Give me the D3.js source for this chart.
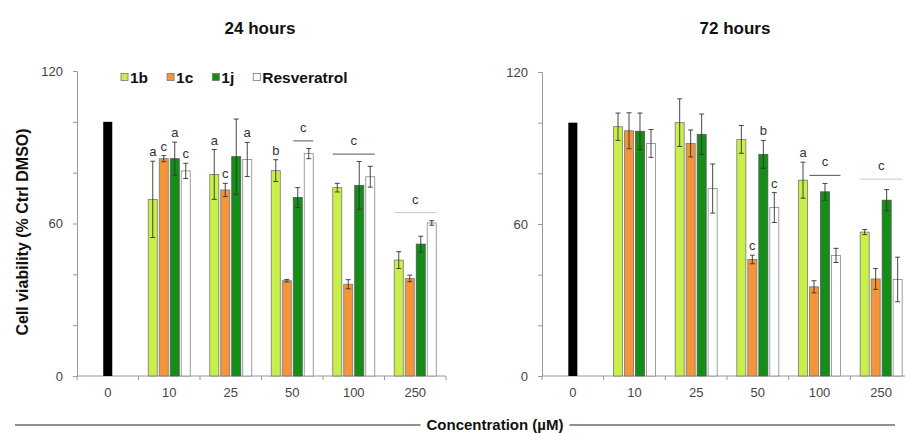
<!DOCTYPE html>
<html><head><meta charset="utf-8">
<script src="https://cdn.jsdelivr.net/npm/d3@7/dist/d3.min.js"></script>
<style>body{margin:0;background:#fff}svg{display:block;font-family:Arial,"Liberation Sans",sans-serif}</style>
</head><body><svg id="c" width="905" height="433"></svg>
<script>
// ---- data ----
const categories = ["0","10","25","50","100","250"];
const treatCats = ["10","25","50","100","250"];
const seriesNames = ["1b","1c","1j","Resveratrol"];
const control24 = 100, control72 = 100;
// 24 hours
const v24_1b = [69.5, 79.3, 80.8, 74.1, 45.6], e24_1b = [15, 9.8, 4.3, 1.7, 3.3];
const v24_1c = [85.5, 73.2, 37.5, 36.1, 38.4], e24_1c = [1.2, 2.6, 0.5, 1.8, 1.3];
const v24_1j = [85.5, 86.3, 70.2, 75.0, 51.9], e24_1j = [6.5, 14.8, 3.9, 9.4, 3.1];
const v24_rs = [80.7, 85.2, 87.5, 78.4, 60.2], e24_rs = [3, 6.7, 2, 4.1, 0.9];
// 72 hours
const v72_1b = [98.4, 100, 93.4, 77.3, 56.8], e72_1b = [5.4, 9.4, 5.5, 7.1, 1];
const v72_1c = [96.8, 91.8, 46.0, 35.2, 38.3], e72_1c = [7.1, 5.3, 1.7, 2.4, 4.1];
const v72_1j = [96.6, 95.4, 87.5, 72.7, 69.4], e72_1j = [7.2, 8, 5.5, 3.3, 4.2];
const v72_rs = [91.8, 74.0, 66.5, 47.6, 38.1], e72_rs = [5.5, 9.7, 5.9, 2.8, 8.8];
// significance letters per category (rows) and series (cols)
const letters24 = [["a","c","a","c"],["a","c","","a"],["b","","",""],["","","",""],["","","",""]];
const letters72 = [["","","",""],["","","",""],["","c","b","c"],["a","","",""],["","","",""]];
// grouped letters: [category, fromSeries, toSeries, value, light]
const groups24 = [["50",2,3,92.5,false],["100",0,3,87.3,false],["250",0,3,64.3,true]];
const groups72 = [["100",1,3,79.2,false],["250",0,3,77.7,true]];
const yTicks = [0,20,40,60,80,100,120];
const yLabels = [0,60,120];

const colors = ["#c9f04a","#f5953a","#138f17","#ffffff"];
const strokes = ["#777","#777","#555","#888"];

const svg = d3.select("#c");

function panel(opt){
  const x = d3.scaleBand().domain(categories).range(opt.xr).padding(0);
  const y = d3.scaleLinear().domain([0,120]).range(opt.yr);
  const inner = d3.scaleBand().domain(seriesNames).range([0,42]).paddingInner(0.18).paddingOuter(0);
  const g = svg.append("g");
  const off = (x.bandwidth()-42)/2;

  // y axis
  const ya = g.append("g").attr("transform",`translate(${opt.xr[0]},0)`)
    .call(d3.axisLeft(y).tickValues(yTicks).tickSize(4).tickPadding(opt.tp)
      .tickFormat(d => yLabels.includes(d) ? d : ""));
  ya.select(".domain").attr("stroke","#999");
  ya.selectAll(".tick line").attr("stroke","#999");
  ya.selectAll(".tick text").attr("fill","#444").style("font-size","13px").style("font-family","Arial, 'Liberation Sans', sans-serif");

  // x axis
  const xa = g.append("g").attr("transform",`translate(0,${opt.yr[0]})`)
    .call(d3.axisBottom(x).tickSize(0).tickPadding(12));
  xa.select(".domain").remove();
  xa.selectAll(".tick text").attr("fill","#444").style("font-size","13px").style("font-family","Arial, 'Liberation Sans', sans-serif");
  g.append("line").attr("x1",opt.xr[0]).attr("x2",opt.xr[1]).attr("y1",opt.yr[0]).attr("y2",opt.yr[0]).attr("stroke","#999");
  const bounds = categories.map(c=>x(c)).concat([x(categories[categories.length-1])+x.step()]);
  g.selectAll(".bt").data(bounds).join("line")
    .attr("x1",d=>d).attr("x2",d=>d).attr("y1",opt.yr[0]).attr("y2",opt.yr[0]+4).attr("stroke","#999");

  // control bar
  const cw = inner.bandwidth();
  g.append("rect").attr("x",x("0")+x.bandwidth()/2-cw/2).attr("width",cw)
    .attr("y",y(opt.control)).attr("height",y(0)-y(opt.control)).attr("fill","#000");

  // treatment bars
  opt.vals.forEach((vals,si)=>{
    const errs = opt.errs[si];
    const data = treatCats.map((c,i)=>({c,v:vals[i],e:errs[i],i}));
    const bx = d => x(d.c)+off+inner(seriesNames[si]);
    g.selectAll(".b"+si).data(data).join("rect")
      .attr("x",bx).attr("width",inner.bandwidth())
      .attr("y",d=>y(d.v)).attr("height",d=>y(0)-y(d.v))
      .attr("fill",colors[si]).attr("stroke",strokes[si]).attr("stroke-width",0.8);
    const cx = d => bx(d)+inner.bandwidth()/2;
    const eg = g.selectAll(".e"+si).data(data).join("g");
    eg.append("line").attr("x1",cx).attr("x2",cx).attr("y1",d=>y(d.v+d.e)).attr("y2",d=>y(d.v-d.e));
    eg.append("line").attr("x1",d=>cx(d)-2.5).attr("x2",d=>cx(d)+2.5).attr("y1",d=>y(d.v+d.e)).attr("y2",d=>y(d.v+d.e));
    eg.append("line").attr("x1",d=>cx(d)-2.5).attr("x2",d=>cx(d)+2.5).attr("y1",d=>y(d.v-d.e)).attr("y2",d=>y(d.v-d.e));
    eg.selectAll("line").attr("stroke","#333").attr("stroke-width",0.9);
    // letters
    g.selectAll(".l"+si).data(data.filter(d=>opt.letters[d.i][si])).join("text")
      .attr("x",cx).attr("y",d=>y(d.v+d.e)-5).attr("text-anchor","middle")
      .attr("fill","#333").style("font-size","13px")
      .text(d=>opt.letters[d.i][si]);
  });

  // group letters
  opt.groups.forEach(([c,a,b,v,light])=>{
    const x1 = x(c)+off+inner(seriesNames[a]);
    const x2 = x(c)+off+inner(seriesNames[b])+inner.bandwidth();
    g.append("line").attr("x1",x1).attr("x2",x2).attr("y1",y(v)).attr("y2",y(v))
      .attr("stroke",light?"#bbb":"#555").attr("stroke-width",light?0.8:1);
    g.append("text").attr("x",(x1+x2)/2).attr("y",y(v)-9).attr("text-anchor","middle")
      .attr("fill","#333").style("font-size","13px").text("c");
  });

  // title
  svg.append("text").attr("x",opt.titleX).attr("y",34).attr("text-anchor","middle")
    .style("font-size","17px").style("font-weight","bold").attr("fill","#111").text(opt.title);
}

panel({xr:[77,446], yr:[376,71], tp:10, control:control24,
  vals:[v24_1b,v24_1c,v24_1j,v24_rs], errs:[e24_1b,e24_1c,e24_1j,e24_rs],
  letters:letters24, groups:groups24, title:"24 hours", titleX:260});
panel({xr:[542,912], yr:[376,72], tp:10, control:control72,
  vals:[v72_1b,v72_1c,v72_1j,v72_rs], errs:[e72_1b,e72_1c,e72_1j,e72_rs],
  letters:letters72, groups:groups72, title:"72 hours", titleX:735});

// y label
svg.append("text").attr("transform","translate(28,232) rotate(-90)").attr("text-anchor","middle")
  .style("font-size","16px").style("font-weight","bold").attr("fill","#111").text("Cell viability (% Ctrl DMSO)");

// legend
const lg = svg.append("g");
let lx = 121;
seriesNames.forEach((s,i)=>{
  lg.append("rect").attr("x",lx).attr("y",73.5).attr("width",7).attr("height",7)
    .attr("fill",colors[i]).attr("stroke","#777").attr("stroke-width",0.8);
  const t = lg.append("text").attr("x",lx+9).attr("y",82.5).style("font-size","15.5px").style("font-weight","bold")
    .attr("fill","#111").text(s);
  lx += 9 + t.node().getComputedTextLength() + 19;
});

// x title with lines
const xt = svg.append("text").attr("x",495).attr("y",430).attr("text-anchor","middle")
  .style("font-size","15px").style("font-weight","bold").attr("fill","#111").text("Concentration (µM)");
const tw = xt.node().getComputedTextLength();
svg.append("line").attr("x1",15).attr("x2",495-tw/2-6).attr("y1",425).attr("y2",425).attr("stroke","#222");
svg.append("line").attr("x1",495+tw/2+6).attr("x2",895).attr("y1",425).attr("y2",425).attr("stroke","#222");
</script></body></html>
